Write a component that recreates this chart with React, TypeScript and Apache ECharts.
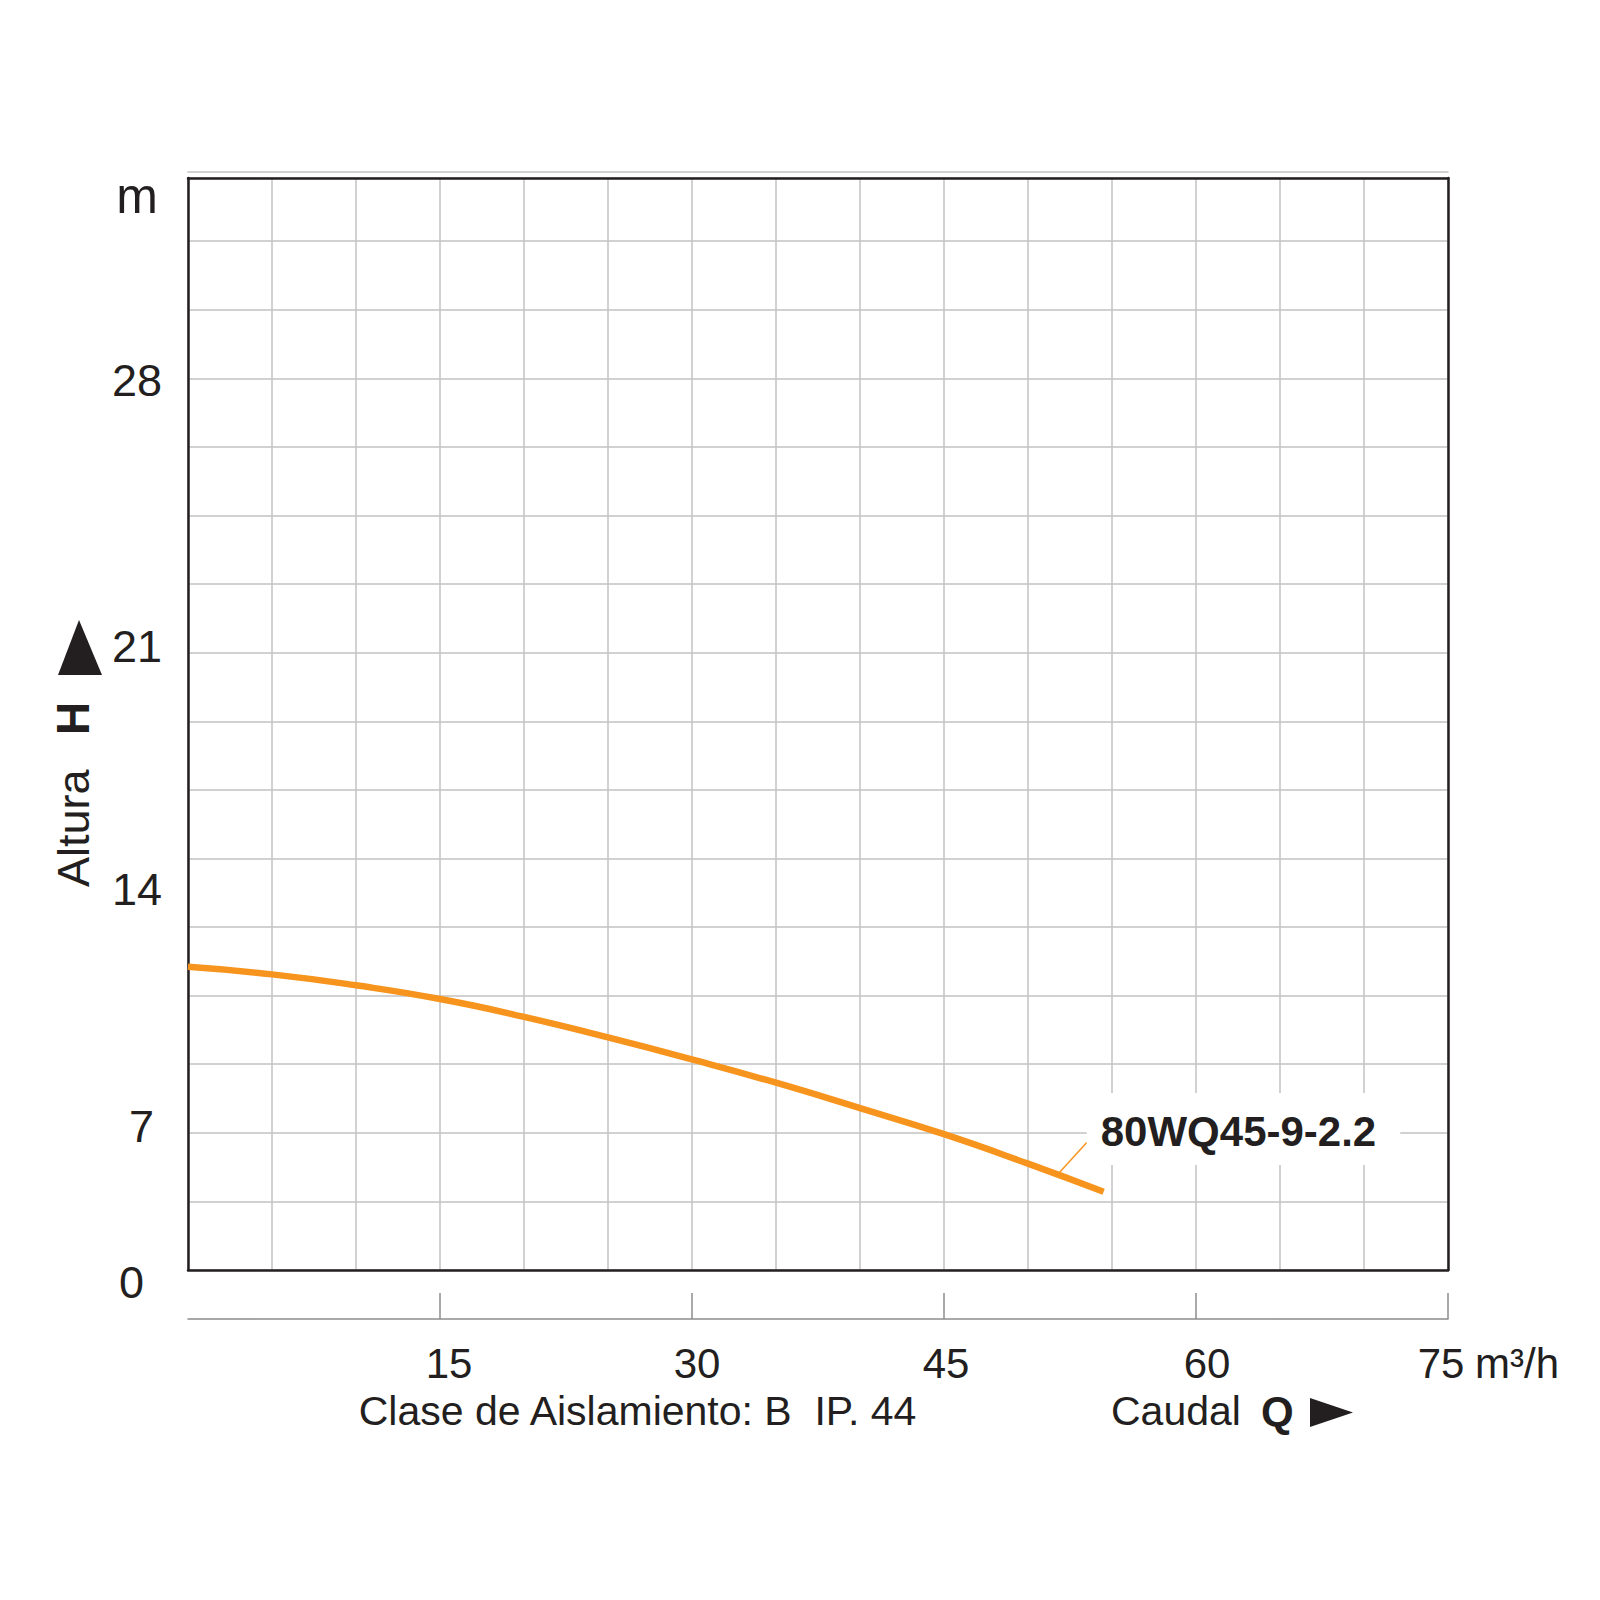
import React, { useEffect, useRef } from "react";
import * as echarts from "echarts";

// Flow Q (m³/h) and head. The head is expressed in the
// chart's own grid divisions (equal divisions of the printed grid), because the
// printed head labels of the original are not evenly spaced.
const flowQ = [0, 5, 10, 15, 20, 25, 30, 35, 40, 45, 50, 54.5];
const headDiv = [4.42, 4.31, 4.15, 3.95, 3.69, 3.39, 3.07, 2.73, 2.36, 1.98, 1.55, 1.14];

// Label anchor on the curve, for the model name
const modelName = "80WQ45-9-2.2";
const labelAnchor = [51.75, 1.39];

// Axis tick labels
const xTickValues = [15, 30, 45, 60, 75];
const yTickPos = [0, 2.09, 5.54, 9.09, 12.97, 15.66];
const yTickLabels = ["0", "7", "14", "21", "28", "m"];
const yMax = 15.92;

const FONT = "'Liberation Sans', Arial, Helvetica, sans-serif";
const INK = "#231f20";
const ORANGE = "#F7941D";
const GRID = "#c2c2c2";

export default function App() {
  const ref = useRef<HTMLDivElement>(null);

  useEffect(() => {
    document.body.style.margin = "0";
    if (!ref.current) return;
    const chart = echarts.init(ref.current, null, { renderer: "svg" });

    const curve = flowQ.map((q, i) => [q, headDiv[i]]);

    const yLabelFormatter = (value: number) => {
      let best = 0;
      let bd = Infinity;
      yTickPos.forEach((p, i) => {
        const d = Math.abs(p - value);
        if (d < bd) {
          bd = d;
          best = i;
        }
      });
      const t = yTickLabels[best];
      const key = t === "0" ? "zero" : t === "7" ? "seven" : t === "m" ? "unit" : "n";
      return `{${key}|${t}}`;
    };

    const xLabelFormatter = (value: number) => {
      const i = xTickValues.indexOf(Math.round(value));
      return i < 0 ? "" : `{x${i}|${Math.round(value)}}`;
    };

    const baseTok = { fontSize: 45, fontFamily: FONT, color: INK };
    const xTok = { fontSize: 42, fontFamily: FONT, color: INK };

    const plainAxis = (extra: any) => ({
      type: "value",
      min: 0,
      axisTick: { show: false },
      axisLabel: { show: false },
      splitLine: { show: false },
      ...extra,
    });

    chart.setOption({
      animation: false,
      backgroundColor: "#ffffff",
      grid: {
        left: 188,
        right: 152,
        top: 178,
        bottom: 330,
        show: false,
        outerBoundsMode: "none",
      },
      xAxis: [
        {
          type: "value",
          position: "bottom",
          min: 0,
          max: 75,
          interval: 5,
          axisLine: { show: true, onZero: false, lineStyle: { color: INK, width: 2.5 } },
          axisTick: { show: false },
          axisLabel: { show: false },
          splitLine: { show: true, lineStyle: { color: GRID, width: 1.5 } },
        },
        {
          type: "value",
          position: "bottom",
          offset: 49,
          min: 0,
          max: 75,
          interval: 15,
          axisLine: { show: true, onZero: false, lineStyle: { color: "#8c8c8c", width: 1.5 } },
          axisTick: {
            show: true,
            inside: true,
            length: 26,
            customValues: xTickValues,
            lineStyle: { color: "#8c8c8c", width: 1.5 },
          },
          axisLabel: {
            show: true,
            customValues: xTickValues,
            formatter: xLabelFormatter,
            margin: 23,
            fontSize: 42,
            fontFamily: FONT,
            color: INK,
            rich: {
              x0: { ...xTok, padding: [0, 0, 0, 18] },
              x1: { ...xTok, padding: [0, 0, 0, 10] },
              x2: { ...xTok, padding: [0, 0, 0, 4] },
              x3: { ...xTok, padding: [0, 0, 0, 22] },
              x4: { ...xTok, padding: [0, 14, 0, 0] },
            },
          },
          splitLine: { show: false },
          name: "m³/h",
          nameLocation: "end",
          nameGap: 27,
          nameTextStyle: {
            fontSize: 42,
            fontFamily: FONT,
            color: INK,
            align: "left",
            verticalAlign: "top",
            padding: [23, 0, 0, 0],
          },
        },
        plainAxis({
          position: "top",
          offset: 0,
          max: 75,
          axisLine: { show: true, onZero: false, lineStyle: { color: INK, width: 2.5 } },
        }),
        plainAxis({
          position: "top",
          offset: 6,
          max: 75,
          axisLine: { show: true, onZero: false, lineStyle: { color: GRID, width: 1.5 } },
        }),
      ],
      yAxis: [
        {
          type: "value",
          position: "left",
          min: 0,
          max: yMax,
          interval: 1,
          axisLine: { show: true, onZero: false, lineStyle: { color: INK, width: 2.5 } },
          axisTick: { show: false },
          splitLine: { show: true, lineStyle: { color: GRID, width: 1.5 } },
          axisLabel: {
            show: true,
            customValues: yTickPos,
            formatter: yLabelFormatter,
            margin: 26,
            fontSize: 45,
            fontFamily: FONT,
            color: INK,
            rich: {
              n: { ...baseTok },
              zero: { ...baseTok, padding: [24, 18, 0, 0] },
              seven: { ...baseTok, padding: [0, 8, 0, 0] },
              unit: { ...baseTok, fontSize: 50, padding: [0, 4, 0, 0] },
            },
          },
        },
        plainAxis({
          position: "right",
          max: yMax,
          axisLine: { show: true, onZero: false, lineStyle: { color: INK, width: 2.5 } },
        }),
      ],
      series: [
        {
          type: "line",
          name: modelName,
          xAxisIndex: 0,
          yAxisIndex: 0,
          data: curve,
          smooth: 0.5,
          showSymbol: false,
          symbol: "none",
          lineStyle: { color: ORANGE, width: 6.5 },
          z: 3,
        },
        {
          type: "scatter",
          name: modelName + " label",
          xAxisIndex: 0,
          yAxisIndex: 0,
          data: [labelAnchor],
          symbol: "circle",
          symbolSize: 2,
          itemStyle: { color: ORANGE, opacity: 1 },
          z: 4,
          label: {
            show: true,
            formatter: `{t|${modelName}}\n{s| }`,
            align: "center",
            verticalAlign: "middle",
            rich: {
              t: {
                fontSize: 42,
                fontWeight: "bold",
                fontFamily: FONT,
                color: INK,
                lineHeight: 42,
                backgroundColor: "#ffffff",
                padding: [17, 24, 13, 14],
                align: "center",
              },
              s: { fontSize: 42, lineHeight: 42, fontFamily: FONT, color: "transparent" },
            },
          },
          labelLayout: { x: 1243.5, y: 1150, hideOverlap: false },
          labelLine: { show: true, length2: 0, lineStyle: { color: ORANGE, width: 1.5, opacity: 1 } },
        },
      ],
      graphic: [
        {
          type: "text",
          x: 73,
          y: 887,
          rotation: Math.PI / 2,
          style: {
            text: "Altura",
            fontSize: 45,
            fontFamily: FONT,
            fill: INK,
            align: "left",
            verticalAlign: "middle",
          },
        },
        {
          type: "text",
          x: 73,
          y: 735,
          rotation: Math.PI / 2,
          style: {
            text: "H",
            fontSize: 46,
            fontWeight: "bold",
            fontFamily: FONT,
            fill: INK,
            align: "left",
            verticalAlign: "middle",
          },
        },
        {
          type: "polygon",
          shape: { points: [[58, 675], [102, 675], [79, 620]] },
          style: { fill: INK },
        },
        {
          type: "text",
          x: 637.5,
          y: 1411,
          style: {
            text: "Clase de Aislamiento: B  IP. 44",
            fontSize: 41,
            fontFamily: FONT,
            fill: INK,
            align: "center",
            verticalAlign: "middle",
          },
        },
        {
          type: "text",
          x: 1111,
          y: 1411,
          style: {
            text: "Caudal",
            fontSize: 41,
            fontFamily: FONT,
            fill: INK,
            align: "left",
            verticalAlign: "middle",
          },
        },
        {
          type: "text",
          x: 1261,
          y: 1411,
          style: {
            text: "Q",
            fontSize: 42,
            fontWeight: "bold",
            fontFamily: FONT,
            fill: INK,
            align: "left",
            verticalAlign: "middle",
          },
        },
        {
          type: "polygon",
          shape: { points: [[1310, 1398], [1310, 1427], [1353, 1412.5]] },
          style: { fill: INK },
        },
      ],
    });

    return () => chart.dispose();
  }, []);

  return <div ref={ref} style={{ width: 1600, height: 1600 }} />;
}
